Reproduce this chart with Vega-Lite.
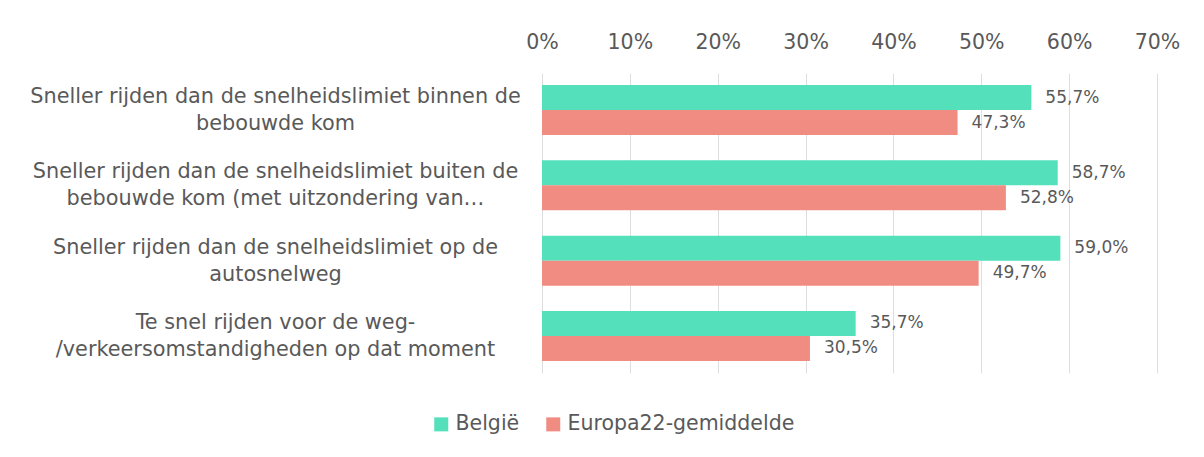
{
  "$schema": "https://vega.github.io/schema/vega-lite/v6.json",
  "width": 615,
  "height": 300,
  "autosize": {"type": "none"},
  "padding": {"left": 542, "top": 73, "right": 47, "bottom": 84},
  "background": "white",
  "config": {
    "locale": {"number": {"decimal": ",", "thousands": ".", "grouping": [3], "currency": ["€", ""]}},
    "view": {"stroke": null},
    "font": "DejaVu Sans"
  },
  "data": {
    "values": [
      {"category": "Sneller rijden dan de snelheidslimiet binnen de bebouwde kom", "series": "België", "value": 0.557},
      {"category": "Sneller rijden dan de snelheidslimiet binnen de bebouwde kom", "series": "Europa22-gemiddelde", "value": 0.473},
      {"category": "Sneller rijden dan de snelheidslimiet buiten de bebouwde kom (met uitzondering van…", "series": "België", "value": 0.587},
      {"category": "Sneller rijden dan de snelheidslimiet buiten de bebouwde kom (met uitzondering van…", "series": "Europa22-gemiddelde", "value": 0.528},
      {"category": "Sneller rijden dan de snelheidslimiet op de autosnelweg", "series": "België", "value": 0.590},
      {"category": "Sneller rijden dan de snelheidslimiet op de autosnelweg", "series": "Europa22-gemiddelde", "value": 0.497},
      {"category": "Te snel rijden voor de weg-/verkeersomstandigheden op dat moment", "series": "België", "value": 0.357},
      {"category": "Te snel rijden voor de weg-/verkeersomstandigheden op dat moment", "series": "Europa22-gemiddelde", "value": 0.305}
    ]
  },
  "encoding": {
    "y": {
      "field": "category",
      "type": "nominal",
      "sort": null,
      "scale": {"paddingInner": 0.336, "paddingOuter": 0.16},
      "axis": {
        "title": null,
        "domain": false,
        "ticks": false,
        "tickSize": 0,
        "labelAlign": "center",
        "labelBaseline": "middle",
        "labelPadding": 267,
        "labelOffset": -13,
        "labelFontSize": 20.8,
        "labelColor": "#595959",
        "labelLineHeight": 27,
        "labelLimit": 700,
        "labelExpr": "datum.label == 'Sneller rijden dan de snelheidslimiet binnen de bebouwde kom' ? ['Sneller rijden dan de snelheidslimiet binnen de', 'bebouwde kom'] : datum.label == 'Sneller rijden dan de snelheidslimiet op de autosnelweg' ? ['Sneller rijden dan de snelheidslimiet op de', 'autosnelweg'] : datum.label == 'Te snel rijden voor de weg-/verkeersomstandigheden op dat moment' ? ['Te snel rijden voor de weg-', '/verkeersomstandigheden op dat moment'] : ['Sneller rijden dan de snelheidslimiet buiten de', 'bebouwde kom (met uitzondering van…']"
      }
    },
    "yOffset": {
      "field": "series",
      "type": "nominal",
      "sort": ["België", "Europa22-gemiddelde"],
      "scale": {"paddingInner": 0, "paddingOuter": 0}
    },
    "x": {
      "field": "value",
      "type": "quantitative",
      "scale": {"domain": [0, 0.7], "nice": false},
      "axis": {
        "orient": "top",
        "title": null,
        "format": ".0%",
        "values": [0, 0.1, 0.2, 0.3, 0.4, 0.5, 0.6, 0.7],
        "grid": true,
        "gridColor": "#dedede",
        "gridWidth": 1,
        "domain": false,
        "ticks": false,
        "tickSize": 0,
        "labelBaseline": "middle",
        "labelPadding": 31,
        "labelFontSize": 20.5,
        "labelColor": "#595959",
        "labelFlush": false
      }
    }
  },
  "layer": [
    {
      "mark": {"type": "bar"},
      "encoding": {
        "color": {
          "field": "series",
          "type": "nominal",
          "scale": {"domain": ["België", "Europa22-gemiddelde"], "range": ["#53E0BB", "#F18C82"]},
          "legend": {
            "orient": "none",
            "legendX": -111,
            "legendY": 341,
            "direction": "horizontal",
            "title": null,
            "symbolType": "square",
            "symbolSize": 196,
            "symbolStrokeWidth": 0,
            "labelFontSize": 20.5,
            "labelColor": "#595959",
            "labelOffset": 4,
            "labelLimit": 400,
            "columnPadding": 23
          }
        }
      }
    },
    {
      "mark": {"type": "text", "align": "left", "baseline": "middle", "dx": 14, "fontSize": 17, "color": "#595959"},
      "encoding": {
        "text": {"field": "value", "type": "quantitative", "format": ".1%"}
      }
    }
  ]
}
